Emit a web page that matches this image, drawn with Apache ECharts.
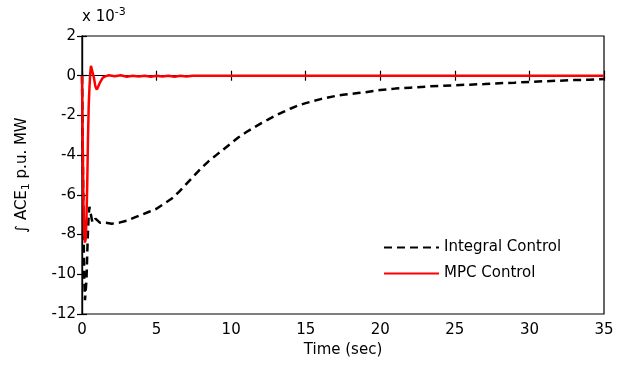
<!DOCTYPE html>
<html>
<head>
<meta charset="utf-8">
<script src="https://cdn.jsdelivr.net/npm/echarts@6/dist/echarts.min.js"></script>
<style>html,body{margin:0;padding:0;background:#fff}#c{width:622px;height:368px}</style>
</head>
<body>
<div id="c"></div>
<script>
// Data (values in units of 1e-3 p.u. MW)
var timeIntegral = [0, 0.05, 0.1, 0.15, 0.2, 0.25, 0.3, 0.35, 0.4, 0.45, 0.5, 0.55, 0.6, 0.7, 0.8, 0.9, 1.0, 1.2, 1.5, 2, 2.5, 3, 3.5, 4, 4.5, 5, 5.5, 6, 6.5, 7, 7.5, 8, 8.5, 9, 9.5, 10, 10.5, 11, 11.5, 12, 12.5, 13, 13.5, 14, 14.5, 15, 15.5, 16, 16.5, 17, 17.5, 18, 18.5, 19, 20, 21, 22, 23, 24, 25, 26, 27, 28, 29, 30, 31, 32, 33, 34, 35];
var valIntegral = [0, -3.5, -7.5, -10.2, -11.3, -11.2, -10.3, -9.0, -7.8, -7.0, -6.6, -6.7, -7.0, -7.4, -7.3, -7.2, -7.3, -7.4, -7.4, -7.45, -7.4, -7.3, -7.15, -7.0, -6.85, -6.7, -6.45, -6.2, -5.85, -5.45, -5.05, -4.65, -4.3, -4.0, -3.7, -3.4, -3.1, -2.85, -2.62, -2.4, -2.2, -2.0, -1.82, -1.65, -1.5, -1.38, -1.28, -1.18, -1.1, -1.02, -0.96, -0.92, -0.87, -0.83, -0.72, -0.65, -0.6, -0.55, -0.51, -0.48, -0.45, -0.42, -0.38, -0.35, -0.31, -0.28, -0.25, -0.22, -0.2, -0.17];
var timeMPC = [0, 0.05, 0.1, 0.15, 0.2, 0.25, 0.3, 0.35, 0.4, 0.45, 0.5, 0.55, 0.6, 0.65, 0.7, 0.8, 0.9, 1.0, 1.1, 1.2, 1.4, 1.6, 1.8, 2.2, 2.6, 3.0, 3.4, 3.8, 4.2, 4.6, 5.0, 5.4, 5.8, 6.2, 6.6, 7.0, 7.4, 8, 10, 15, 20, 25, 30, 35];
var valMPC = [0, -3.5, -6.5, -8.0, -8.4, -8.2, -7.2, -5.5, -3.2, -1.5, -0.6, 0.1, 0.5, 0.6, 0.5, -0.1, -0.55, -0.7, -0.6, -0.35, -0.1, -0.02, 0.02, -0.03, 0.02, -0.05, 0.0, -0.04, 0.0, -0.05, 0.0, -0.04, 0.0, -0.05, 0.0, -0.04, 0.0, 0, 0, 0, 0, 0, 0, 0];
var xTicks = [0, 5, 10, 15, 20, 25, 30, 35];
var yTicks = [-12, -10, -8, -6, -4, -2, 0, 2];
var seriesNames = ['Integral Control', 'MPC Control'];

function pairs(t, v) { return t.map(function (x, i) { return [x, v[i]]; }); }

var font = 'DejaVu Sans, Verdana, sans-serif';
var chart = echarts.init(document.getElementById('c'), null, { renderer: 'canvas' });
var axisLineStyle = { color: '#000', width: 1.2 };
chart.setOption({
  animation: false,
  backgroundColor: '#fff',
  grid: { left: 82, right: 18, top: 36, bottom: 54, show: true, borderColor: '#000', borderWidth: 1.2, backgroundColor: 'transparent' },
  xAxis: [{
    type: 'value', min: xTicks[0], max: xTicks[xTicks.length - 1], interval: 5,
    name: 'Time (sec)', nameLocation: 'middle', nameGap: 29,
    nameTextStyle: { fontFamily: font, fontSize: 15, color: '#000' },
    axisLine: { lineStyle: axisLineStyle }, axisTick: { inside: true, length: 5, lineStyle: axisLineStyle },
    axisLabel: { fontFamily: font, fontSize: 15, color: '#000', margin: 9 }, splitLine: { show: false }
  }, {
    type: 'value', position: 'top', min: xTicks[0], max: xTicks[xTicks.length - 1], interval: 5,
    axisLine: { show: true, lineStyle: axisLineStyle }, axisTick: { inside: true, length: 5, lineStyle: axisLineStyle },
    axisLabel: { show: false }, splitLine: { show: false }
  }],
  yAxis: [{
    type: 'value', min: yTicks[0], max: yTicks[yTicks.length - 1], interval: 2,
    axisLine: { show: true, lineStyle: axisLineStyle }, axisTick: { show: true, inside: true, length: 5, lineStyle: axisLineStyle },
    axisLabel: { fontFamily: font, fontSize: 15, color: '#000', margin: 6 }, splitLine: { show: false }
  }, {
    type: 'value', position: 'right', min: yTicks[0], max: yTicks[yTicks.length - 1], interval: 2,
    axisLine: { show: true, lineStyle: axisLineStyle }, axisTick: { show: true, inside: true, length: 5, lineStyle: axisLineStyle },
    axisLabel: { show: false }, splitLine: { show: false }
  }],
  legend: {
    orient: 'vertical', left: 378, top: 235, itemGap: 11, itemWidth: 55, itemHeight: 15,
    itemStyle: { opacity: 0, borderWidth: 0 },
    textStyle: { fontFamily: font, fontSize: 15, color: '#000' },
    data: seriesNames
  },
  series: [{
    name: seriesNames[0], type: 'line', data: pairs(timeIntegral, valIntegral),
    showSymbol: false, symbol: 'none', smooth: false,
    lineStyle: { color: '#000', width: 2.5, type: [8, 5] }, itemStyle: { color: '#000' }, z: 2
  }, {
    name: seriesNames[1], type: 'line', data: pairs(timeMPC, valMPC),
    showSymbol: false, symbol: 'none', smooth: false,
    lineStyle: { color: '#ff0000', width: 2.5 }, itemStyle: { color: '#ff0000' }, z: 3
  }],
  graphic: [{
    type: 'text', left: 82, top: 7,
    style: {
      text: 'x 10{sup|-3}', fill: '#000', font: '15px ' + font,
      rich: { sup: { fontSize: 11, fontFamily: font, verticalAlign: 'top', padding: [0, 0, 9, 0] } }
    }
  }, {
    type: 'text', x: 22, y: 175, rotation: Math.PI / 2,
    style: {
      text: '\u222B ACE{sub|1} p.u. MW', fill: '#000', font: '15px ' + font,
      align: 'center', verticalAlign: 'middle',
      rich: { sub: { fontSize: 11, fontFamily: font, padding: [8, 0, 0, 0] } }
    }
  }]
});
</script>
</body>
</html>
